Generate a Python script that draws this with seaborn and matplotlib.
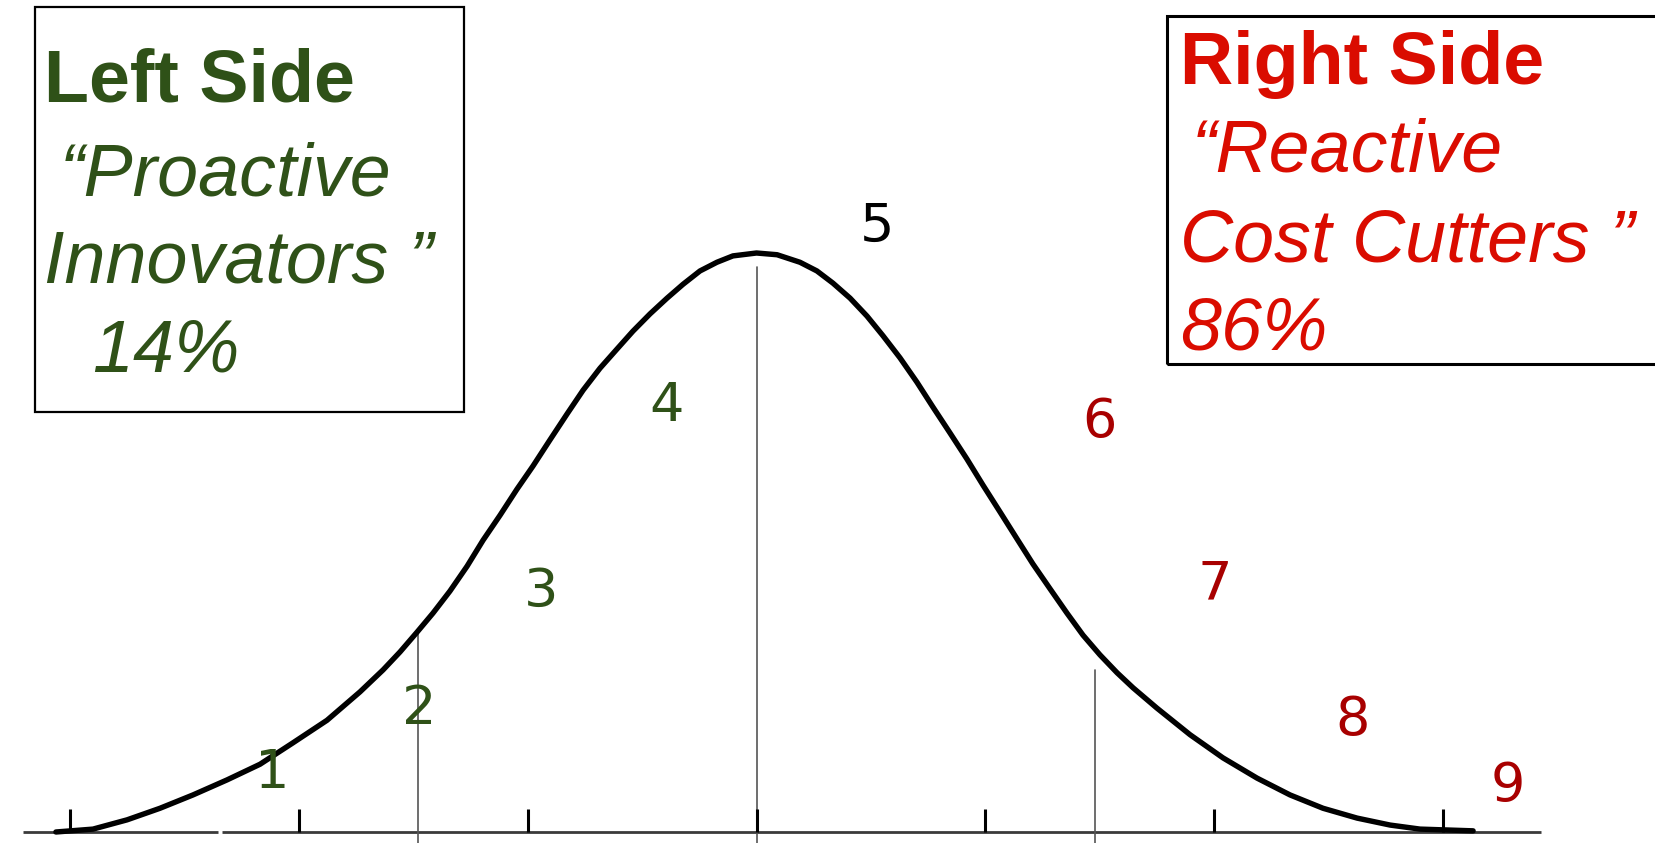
import matplotlib
matplotlib.use("Agg")
import matplotlib.pyplot as plt
import seaborn as sns
from matplotlib.patches import Rectangle

# ---------------- data ----------------
# bell curve: position in standard-deviation units, relative height
curve_z = [-3.062, -2.900, -2.751, -2.607, -2.463, -2.314, -2.170, -2.026, -1.877, -1.733,
           -1.632, -1.558, -1.484, -1.414, -1.340, -1.265, -1.195, -1.121, -1.047, -0.977,
           -0.903, -0.828, -0.758, -0.684, -0.610, -0.540, -0.465, -0.391, -0.321, -0.247,
           -0.173, -0.103, 0.000, 0.090, 0.190, 0.264, 0.334, 0.409, 0.483, 0.553,
           0.627, 0.701, 0.771, 0.846, 0.920, 0.990, 1.064, 1.139, 1.208, 1.283,
           1.357, 1.427, 1.501, 1.576, 1.646, 1.750, 1.895, 2.039, 2.188, 2.332,
           2.476, 2.625, 2.769, 2.900, 3.132]
curve_h = [0.000, 0.005, 0.021, 0.041, 0.064, 0.090, 0.117, 0.154, 0.193, 0.242,
           0.280, 0.311, 0.345, 0.378, 0.416, 0.459, 0.504, 0.547, 0.592, 0.632,
           0.677, 0.722, 0.763, 0.801, 0.834, 0.865, 0.895, 0.922, 0.946, 0.969,
           0.984, 0.995, 1.000, 0.997, 0.984, 0.969, 0.948, 0.922, 0.891, 0.857,
           0.819, 0.777, 0.734, 0.689, 0.644, 0.599, 0.553, 0.506, 0.463, 0.420,
           0.378, 0.340, 0.306, 0.275, 0.249, 0.214, 0.168, 0.128, 0.093, 0.064,
           0.041, 0.024, 0.012, 0.005, 0.002]

tick_z = [-3, -2, -1, 0, 1, 2, 3]
cut_z = [-1.48, 0.0, 1.48]
cut_top = [0.344, 0.976, 0.280]

segment_labels = ["1", "2", "3", "4", "5", "6", "7", "8", "9"]
segment_z = [-2.117, -1.475, -0.942, -0.392, 0.526, 1.497, 2.004, 2.607, 3.284]
segment_h = [0.076, 0.187, 0.389, 0.710, 1.019, 0.682, 0.402, 0.168, 0.054]
segment_side = ["L", "L", "L", "L", "C", "R", "R", "R", "R"]

left_lines = ["Left Side", "\u201cProactive", "Innovators \u201d", "14%"]
right_lines = ["Right Side", "\u201cReactive", "Cost Cutters \u201d", "86%"]

# ---------------- style ----------------
GREEN = "#2F5118"
RED_TXT = "#DA0C00"
RED_NUM = "#A80000"
side_color = {"L": GREEN, "C": "black", "R": RED_NUM}

sns.set_theme(style="white")
plt.rcParams["font.family"] = ["DejaVu Sans"]

W, H = 1655, 843
fig = plt.figure(figsize=(W / 100, H / 100), dpi=100)
fig.patch.set_facecolor("white")
ax = fig.add_axes([0, 0, 1, 1])

# pixel geometry of the drawing
cx, sig, base_y, peak_px = 756.5, 228.8, 832.0, 579.0
ax.set_xlim(-cx / sig, (W - cx) / sig)
ax.set_ylim((base_y - H) / peak_px, base_y / peak_px)
ax.axis("off")

# baseline (with its small break on the left)
for a, b in [(23, 218), (222, 1541)]:
    ax.plot([(a - cx) / sig, (b - cx) / sig], [0, 0], color="#3a3a3a", lw=2.0,
            solid_capstyle="butt", zorder=2)
# tick marks
for z in tick_z:
    ax.plot([z, z], [0, 0.040], color="black", lw=2.2, solid_capstyle="butt", zorder=3)
# cut lines
for z, t in zip(cut_z, cut_top):
    ax.plot([z, z], [-0.05, t], color="#555555", lw=1.2, zorder=2)

# bell curve
sns.lineplot(x=curve_z, y=curve_h, ax=ax, color="black", lw=3.9, sort=False,
             estimator=None, zorder=4)
ax.lines[-1].set_solid_joinstyle("round")

# segment numbers
for lab, z, h, s in zip(segment_labels, segment_z, segment_h, segment_side):
    ax.text(z, h, lab, color=side_color[s], fontsize=39, ha="center", va="baseline",
            family="DejaVu Sans", zorder=5)


def fx(px):
    return px / W


def fy(py):
    return 1 - py / H


# boxes
fig.patches.append(Rectangle((fx(35), fy(412)), fx(464) - fx(35), fy(7) - fy(412),
                             transform=fig.transFigure, fill=False, ec="black", lw=1.6))
fig.patches.append(Rectangle((fx(1167), fy(364)), fx(1700) - fx(1167), fy(16) - fy(364),
                             transform=fig.transFigure, fill=False, ec="black", lw=2.2))

FS = 53
left_x = [44, 60, 44, 92]
left_base = [102, 195, 283, 372]
for i, (txt, x, b) in enumerate(zip(left_lines, left_x, left_base)):
    fig.text(fx(x), fy(b), txt, color=GREEN, fontsize=FS, ha="left", va="baseline",
             family="Liberation Sans", fontweight="bold" if i == 0 else "normal",
             style="normal" if i == 0 else "italic")

right_x = [1180, 1192, 1180, 1180]
right_base = [84, 172, 262, 350]
for i, (txt, x, b) in enumerate(zip(right_lines, right_x, right_base)):
    fig.text(fx(x), fy(b), txt, color=RED_TXT, fontsize=FS, ha="left", va="baseline",
             family="Liberation Sans", fontweight="bold" if i == 0 else "normal",
             style="normal" if i == 0 else "italic")

fig.savefig("out.png", dpi=100, facecolor="white")
